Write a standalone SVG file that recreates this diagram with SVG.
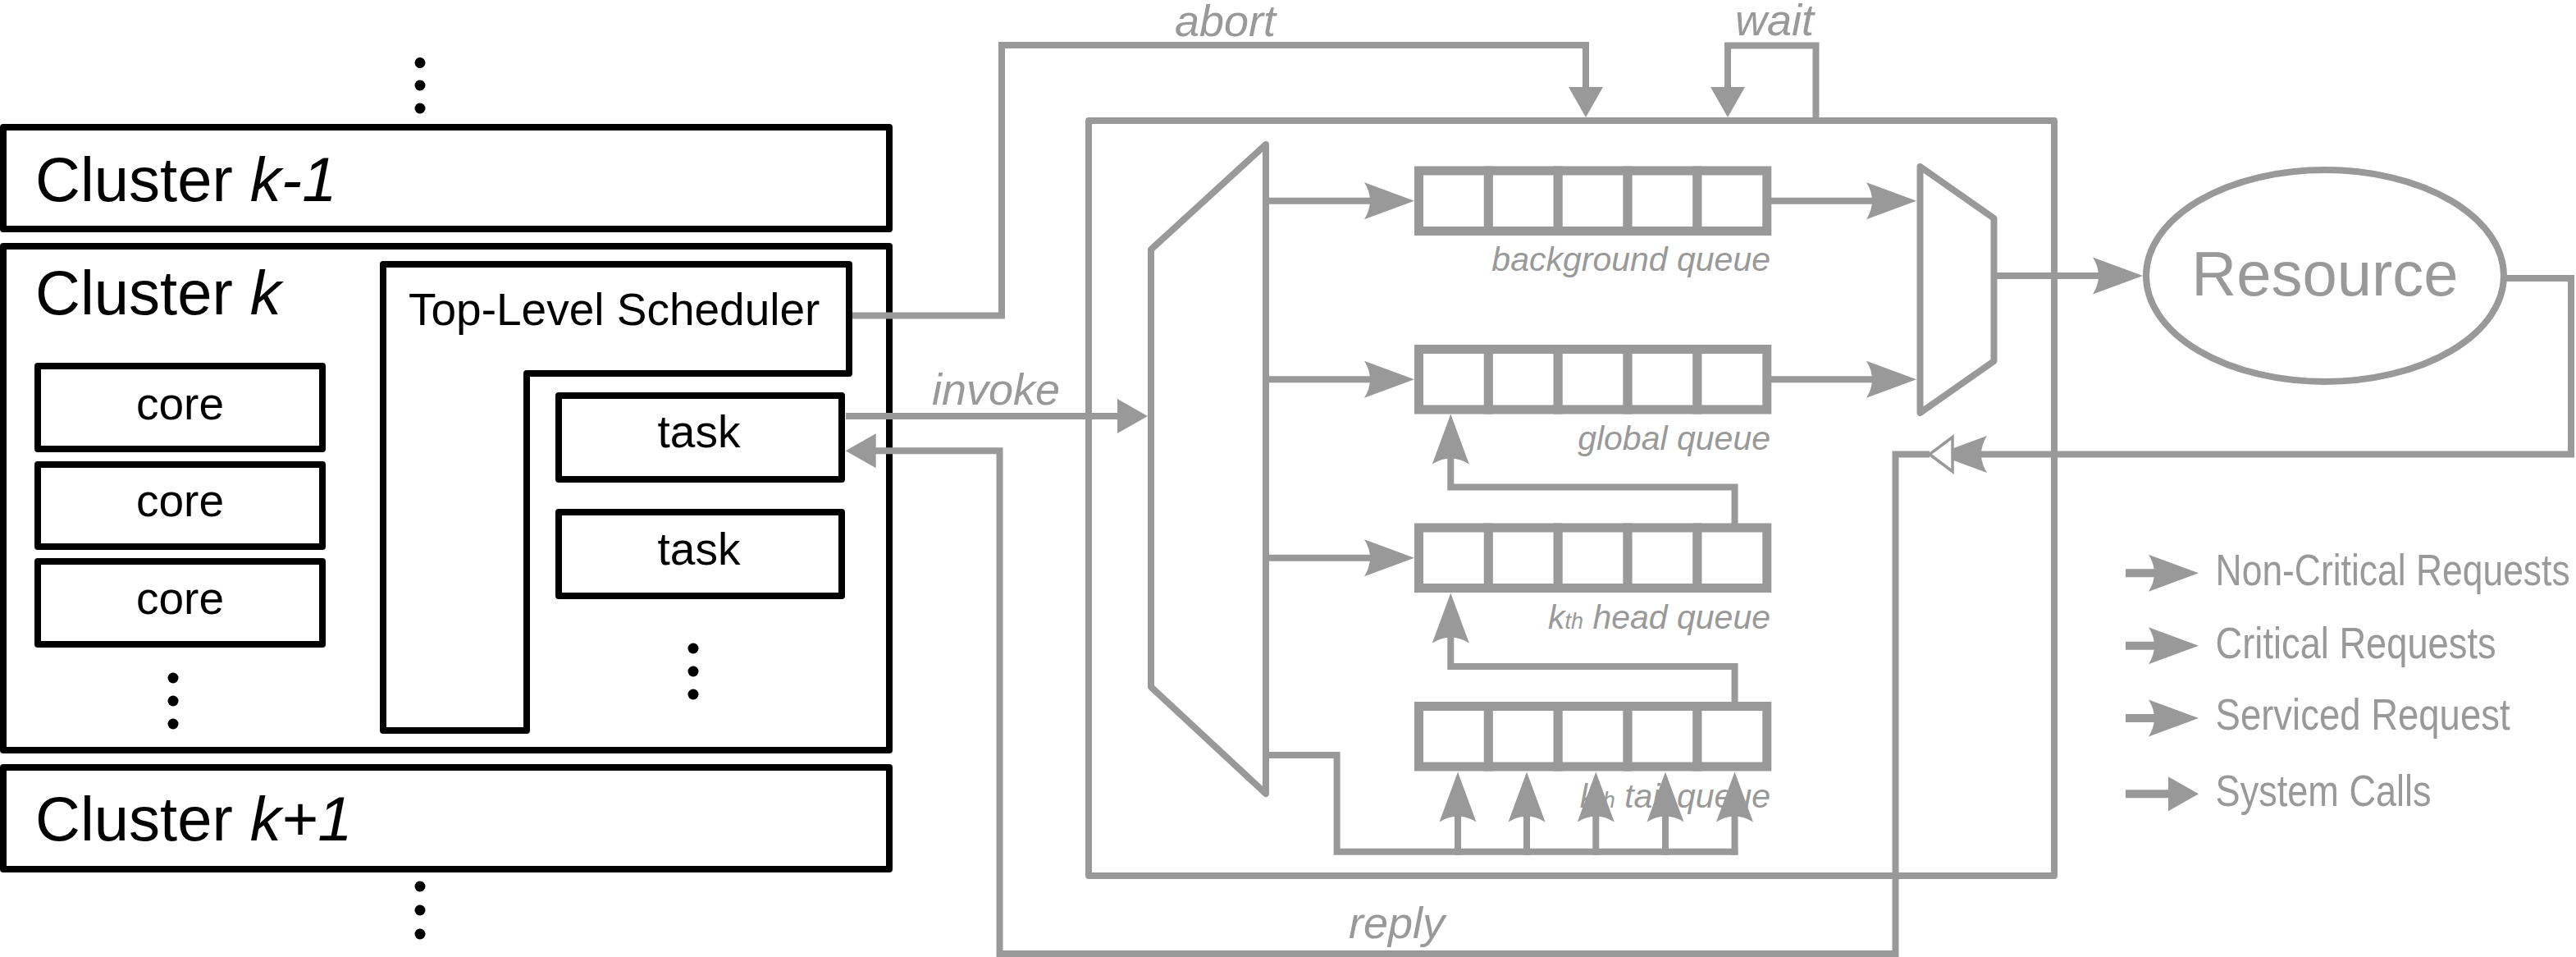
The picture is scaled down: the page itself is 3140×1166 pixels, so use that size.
<svg xmlns="http://www.w3.org/2000/svg" width="3140" height="1166" viewBox="0 0 3140 1166">
<style>
.blk{fill:#fff;stroke:#000;stroke-width:8;stroke-linejoin:round}
.gry{fill:none;stroke:#999;stroke-width:8;stroke-linejoin:miter;stroke-linecap:butt}
.gbox{fill:none;stroke:#999;stroke-width:8;stroke-linejoin:round}
.gshape{fill:#fff;stroke:#999;stroke-width:8;stroke-linejoin:round}
.qcell{fill:#fff;stroke:#999;stroke-width:11}
.ah{fill:#999}
.hollow{fill:#fff;stroke:#999;stroke-width:3.5;stroke-linejoin:miter}
.dot{fill:#000}
text{font-family:"Liberation Sans",Arial,Helvetica,sans-serif}
.bt{font-size:55px;fill:#000}
.ct{font-size:76px;fill:#000}
.gl{font-size:54px;fill:#999;font-style:italic}
.ql{font-size:41px;fill:#999;font-style:italic}
.lg{font-size:54px;fill:#999}
.rs{font-size:76px;fill:#999}
</style>
<defs>
<path id="ac" d="M0,0 L-61,-22.5 Q-47,0 -61,22.5 Z"/>
<path id="as" d="M0,0 L-37,-21 L-37,21 Z"/>
<path id="aw" d="M0,0 L-28,-21 L-28,21 Z"/>
<g id="q5">
<rect class="qcell" x="0" y="0" width="84.86" height="73.5"/>
<rect class="qcell" x="84.86" y="0" width="84.86" height="73.5"/>
<rect class="qcell" x="169.72" y="0" width="84.86" height="73.5"/>
<rect class="qcell" x="254.58" y="0" width="84.86" height="73.5"/>
<rect class="qcell" x="339.44" y="0" width="84.86" height="73.5"/>
</g>
</defs>
<rect x="0" y="0" width="3140" height="1166" fill="#fff"/>

<!-- left: clusters -->
<g id="dots-top">
<circle class="dot" cx="512" cy="76.5" r="6.5"/>
<circle class="dot" cx="512" cy="104" r="6.5"/>
<circle class="dot" cx="512" cy="132" r="6.5"/>
</g>
<g id="cluster-k-minus-1">
<rect class="blk" x="4" y="155" width="1080" height="124"/>
<text class="ct" x="43" y="245">Cluster <tspan font-style="italic">k-1</tspan></text>
</g>
<g id="cluster-k">
<rect class="blk" x="4" y="300" width="1080" height="614"/>
<text class="ct" x="43" y="383">Cluster <tspan font-style="italic">k</tspan></text>
</g>
<g id="top-level-scheduler">
<path class="blk" d="M467,322 H1035 V455 H642 V890 H467 Z"/>
<text class="bt" x="498" y="396">Top-Level Scheduler</text>
</g>
<g id="core-1">
<rect class="blk" x="46" y="446" width="347" height="101"/>
<text class="bt" x="219.5" y="511" text-anchor="middle">core</text>
</g>
<g id="core-2">
<rect class="blk" x="46" y="566" width="347" height="100"/>
<text class="bt" x="219.5" y="629" text-anchor="middle">core</text>
</g>
<g id="core-3">
<rect class="blk" x="46" y="684" width="347" height="101"/>
<text class="bt" x="219.5" y="748" text-anchor="middle">core</text>
</g>
<g id="dots-cores">
<circle class="dot" cx="211" cy="826" r="6.5"/>
<circle class="dot" cx="211" cy="854" r="6.5"/>
<circle class="dot" cx="211" cy="882" r="6.5"/>
</g>
<g id="task-1">
<rect class="blk" x="681" y="482" width="345" height="102"/>
<text class="bt" x="852" y="545" text-anchor="middle">task</text>
</g>
<g id="task-2">
<rect class="blk" x="681" y="624" width="345" height="102"/>
<text class="bt" x="852" y="688" text-anchor="middle">task</text>
</g>
<g id="dots-tasks">
<circle class="dot" cx="845" cy="790" r="6.5"/>
<circle class="dot" cx="845" cy="818" r="6.5"/>
<circle class="dot" cx="845" cy="846" r="6.5"/>
</g>
<g id="cluster-k-plus-1">
<rect class="blk" x="4" y="935" width="1080" height="124"/>
<text class="ct" x="43" y="1024">Cluster <tspan font-style="italic">k+1</tspan></text>
</g>
<g id="dots-bottom">
<circle class="dot" cx="512" cy="1080" r="6.5"/>
<circle class="dot" cx="512" cy="1109" r="6.5"/>
<circle class="dot" cx="512" cy="1138" r="6.5"/>
</g>

<!-- right: request handling -->
<g id="request-manager">
<rect class="gbox" x="1327" y="147" width="1177" height="920"/>
</g>
<g id="demux">
<polygon class="gshape" points="1543,176 1403,304 1403,837 1543,967"/>
</g>
<g id="background-queue">
<text class="ql" x="2158" y="330" text-anchor="end">background queue</text>
<use href="#q5" transform="translate(1729.5,208)"/>
</g>
<g id="global-queue">
<text class="ql" x="2158" y="547.5" text-anchor="end">global queue</text>
<use href="#q5" transform="translate(1729.5,425.5)"/>
</g>
<g id="head-queue">
<text class="ql" x="2158" y="766" text-anchor="end">k<tspan font-size="27">th</tspan> head queue</text>
<use href="#q5" transform="translate(1729.5,643)"/>
</g>
<g id="tail-queue">
<text class="ql" x="2158" y="983.5" text-anchor="end">k<tspan font-size="27">th</tspan> tail queue</text>
<use href="#q5" transform="translate(1729.5,860.5)"/>
</g>
<g id="mux">
<polygon class="gshape" points="2340.5,203 2430.5,266 2430.5,440 2340.5,503"/>
</g>
<g id="resource">
<ellipse class="gshape" cx="2834" cy="336" rx="218" ry="129"/>
<text class="rs" x="2834" y="360" text-anchor="middle">Resource</text>
</g>

<g id="connectors">
<!-- system calls -->
<path class="gry" d="M1039,384.5 H1221 V55 H1933 V112"/>
<use href="#as" class="ah" transform="translate(1933,143) rotate(90)"/>
<path class="gry" d="M2213.5,143 V55.5 H2106 V112"/>
<use href="#as" class="ah" transform="translate(2106,143) rotate(90)"/>
<path class="gry" d="M1031,507 H1366"/>
<use href="#as" class="ah" transform="translate(1399,507)"/>
<path class="gry" d="M2352,553.5 H2310.5 V1162 H1218.5 V549.3 H1062"/>
<use href="#as" class="ah" transform="translate(1030.7,549.3) rotate(180)"/>
<!-- serviced request -->
<path class="gry" d="M3052,339 H3134 V553.5 H2412"/>
<use href="#ac" class="ah" transform="translate(2361,553.5) rotate(180)"/>
<use href="#aw" class="hollow" transform="translate(2352,553.5) rotate(180)"/>
<!-- mux to resource -->
<path class="gry" d="M2434,336 H2560"/>
<use href="#ac" class="ah" transform="translate(2612,336)"/>
<!-- queues to mux -->
<path class="gry" d="M2159,244.75 H2284"/>
<use href="#ac" class="ah" transform="translate(2336,244.75)"/>
<path class="gry" d="M2159,462.25 H2284"/>
<use href="#ac" class="ah" transform="translate(2336,462.25)"/>
<!-- demux to queues -->
<path class="gry" d="M1547,244.75 H1672"/>
<use href="#ac" class="ah" transform="translate(1724,244.75)"/>
<path class="gry" d="M1547,462.25 H1672"/>
<use href="#ac" class="ah" transform="translate(1724,462.25)"/>
<path class="gry" d="M1547,679.75 H1672"/>
<use href="#ac" class="ah" transform="translate(1724,679.75)"/>
<path class="gry" d="M1547,920 H1629.6 V1037.7 H2118.5"/>
<path class="gry" d="M1777,1041.7 V990 M1861,1041.7 V990 M1945.3,1041.7 V990 M2030,1041.7 V990 M2114.5,1041.7 V990"/>
<use href="#ac" class="ah" transform="translate(1777,940.5) rotate(-90)"/>
<use href="#ac" class="ah" transform="translate(1861,940.5) rotate(-90)"/>
<use href="#ac" class="ah" transform="translate(1945.3,940.5) rotate(-90)"/>
<use href="#ac" class="ah" transform="translate(2030,940.5) rotate(-90)"/>
<use href="#ac" class="ah" transform="translate(2114.5,940.5) rotate(-90)"/>
<!-- promotions -->
<path class="gry" d="M2114.5,861 V812 H1768.3 V773"/>
<use href="#ac" class="ah" transform="translate(1768.3,722.5) rotate(-90)"/>
<path class="gry" d="M2114.5,643 V593.6 H1768.3 V556"/>
<use href="#ac" class="ah" transform="translate(1768.3,504.5) rotate(-90)"/>
</g>

<g id="connector-labels">
<text class="gl" x="1432" y="44">abort</text>
<text class="gl" x="2115" y="43">wait</text>
<text class="gl" x="1136" y="493">invoke</text>
<text class="gl" x="1644" y="1143">reply</text>
</g>

<g id="legend">
<path class="gry" d="M2591,698.3 H2630 M2591,786.7 H2630 M2591,875 H2630" style="stroke-width:10"/>
<use href="#ac" class="ah" transform="translate(2680,698.3)"/>
<use href="#ac" class="ah" transform="translate(2680,786.7)"/>
<use href="#ac" class="ah" transform="translate(2680,875)"/>
<path class="gry" d="M2591,967.3 H2650" style="stroke-width:10"/>
<use href="#as" class="ah" transform="translate(2680,967.3)"/>
<text class="lg" x="2700.6" y="713.3" textLength="432" lengthAdjust="spacingAndGlyphs">Non-Critical Requests</text>
<text class="lg" x="2700.6" y="801.7" textLength="342" lengthAdjust="spacingAndGlyphs">Critical Requests</text>
<text class="lg" x="2700.6" y="889.3" textLength="359" lengthAdjust="spacingAndGlyphs">Serviced Request</text>
<text class="lg" x="2700.6" y="981.7" textLength="263" lengthAdjust="spacingAndGlyphs">System Calls</text>
</g>
</svg>
